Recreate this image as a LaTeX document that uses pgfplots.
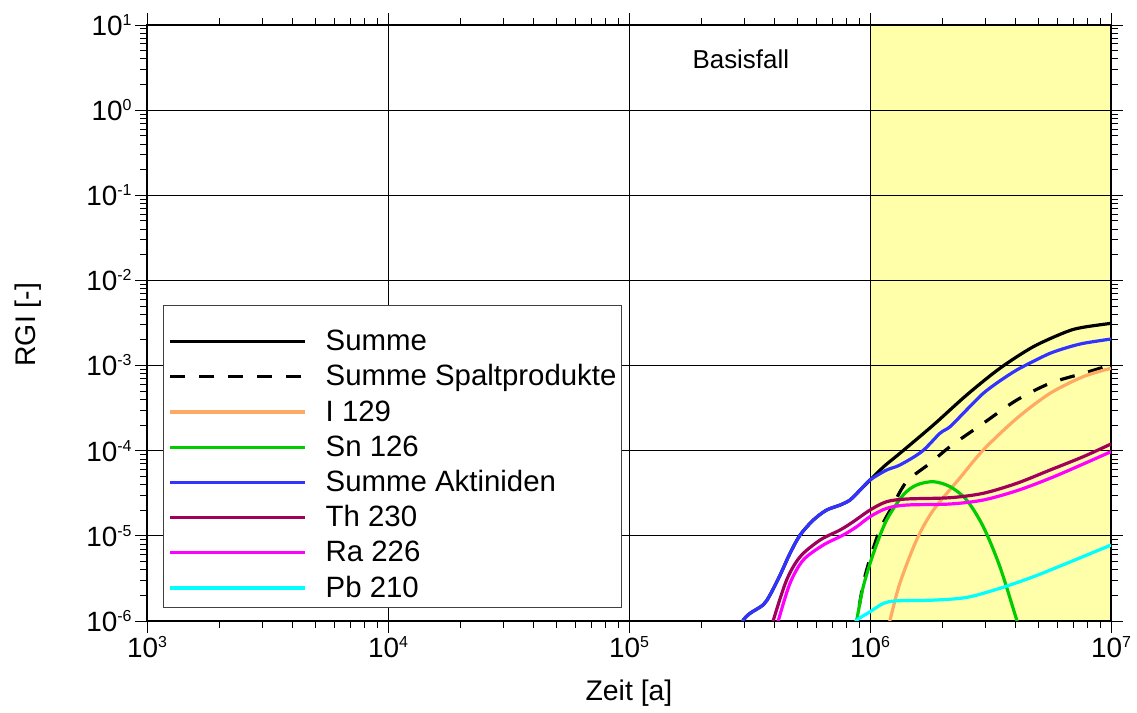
\documentclass[border=0pt]{standalone}
\usepackage{fontspec}
\setmainfont{Liberation Sans}
\usepackage{pgfplots}
\pgfplotsset{compat=1.18}

\definecolor{cSumme}{RGB}{0,0,0}
\definecolor{cIod}{RGB}{255,170,100}
\definecolor{cSn}{RGB}{0,204,0}
\definecolor{cAkt}{RGB}{51,51,255}
\definecolor{cTh}{RGB}{160,0,90}
\definecolor{cRa}{RGB}{255,0,255}
\definecolor{cPb}{RGB}{0,255,255}
\definecolor{cBand}{RGB}{255,255,170}

% power-of-ten tick label in the text font
\newcommand\pw[1]{10\raisebox{10bp}{\fontsize{16}{16}\selectfont #1}}

\begin{document}
\begin{tikzpicture}
\begin{axis}[
  set layers,
  at={(147bp,92bp)}, anchor=south west,
  scale only axis, width=964bp, height=596bp,
  xmode=log, ymode=log,
  xmin=1e3, xmax=1e7, ymin=1e-6, ymax=1e1,
  xtick={1e3,1e4,1e5,1e6,1e7},
  xticklabels={\pw{3},\pw{4},\pw{5},\pw{6},\pw{7}},
  ytick={1e-6,1e-5,1e-4,1e-3,1e-2,1e-1,1e0,1e1},
  yticklabels={\pw{-6},\pw{-5},\pw{-4},\pw{-3},\pw{-2},\pw{-1},\pw{0},\pw{1}},
  minor xtick={2e3,3e3,4e3,5e3,6e3,7e3,8e3,9e3,
               2e4,3e4,4e4,5e4,6e4,7e4,8e4,9e4,
               2e5,3e5,4e5,5e5,6e5,7e5,8e5,9e5,
               2e6,3e6,4e6,5e6,6e6,7e6,8e6,9e6},
  minor ytick={2e-6,3e-6,4e-6,5e-6,6e-6,7e-6,8e-6,9e-6,
               2e-5,3e-5,4e-5,5e-5,6e-5,7e-5,8e-5,9e-5,
               2e-4,3e-4,4e-4,5e-4,6e-4,7e-4,8e-4,9e-4,
               2e-3,3e-3,4e-3,5e-3,6e-3,7e-3,8e-3,9e-3,
               2e-2,3e-2,4e-2,5e-2,6e-2,7e-2,8e-2,9e-2,
               2e-1,3e-1,4e-1,5e-1,6e-1,7e-1,8e-1,9e-1,
               2,3,4,5,6,7,8,9},
  tick align=outside,
  major tick length=12bp, minor tick length=7bp,
  every tick/.style={black, line width=0.9bp},
  xmajorgrids, ymajorgrids,
  major grid style={black, line width=0.9bp},
  axis line style={line width=1.3bp},
  ticklabel style={font=\fontsize{28}{28}\selectfont},
  xlabel={Zeit [a]}, ylabel={RGI [-]},
  label style={font=\fontsize{28.5}{28.5}\selectfont},
  xlabel style={at={(axis description cs:0.5,-0.121)}, anchor=center},
  ylabel style={at={(axis description cs:-0.1234,0.497)}, anchor=center},
  legend style={at={(rel axis cs:0.0166,0.530)}, anchor=north west,
    draw=black!75, line width=1bp, fill=white,
    font=\fontsize{29.5}{29.5}\selectfont,
    inner xsep=5bp, inner ysep=10bp,
    row sep=0.2bp, column sep=19bp,
    nodes={inner sep=0bp, text height=35bp, text depth=0bp}},
  legend cell align=left,
  legend image code/.code={\draw[#1] (0bp,-8.5bp) -- (135bp,-8.5bp);},
  every axis plot/.append style={line width=3.2bp, smooth},
]

% shaded time band 1e6 .. 1e7 a
\addplot[fill=cBand, draw=none, on layer=axis background, forget plot, sharp plot]
  coordinates {(1e6,1e-6) (1e7,1e-6) (1e7,1e1) (1e6,1e1)} -- cycle;

% Summe
\addplot[color=cSumme] coordinates {
 (2.818e5,7.08e-7) (2.979e5,1.023e-6) (3.177e5,1.230e-6) (3.606e5,1.549e-6)
 (3.846e5,2.018e-6) (4.236e5,3.467e-6) (4.656e5,6.223e-6) (5.129e5,1.023e-5)
 (5.821e5,1.535e-5) (6.607e5,2.009e-5) (7.516e5,2.301e-5) (8.260e5,2.636e-5)
 (9.099e5,3.451e-5) (1.000e6,4.529e-5) (1.148e6,6.607e-5) (1.330e6,9.311e-5)
 (1.832e6,2.004e-4) (2.518e6,4.508e-4) (3.459e6,9.290e-4) (4.764e6,1.667e-3)
 (6.546e6,2.500e-3) (7.674e6,2.818e-3) (1e7,3.133e-3)};
\addlegendentry{Summe}

% Summe Spaltprodukte
\addplot[color=black, dash pattern=on 15bp off 14bp] coordinates {
 (8.511e5,7.08e-7) (8.810e5,1.023e-6) (9.376e5,2.75e-6) (1.000e6,5.4e-6)
 (1.099e6,1.18e-5) (1.230e6,2.15e-5) (1.419e6,4.325e-5) (1.774e6,7.112e-5)
 (2.148e6,1.117e-4) (2.951e6,2.099e-4) (4.064e6,3.936e-4) (5.585e6,6.194e-4)
 (7.674e6,8.110e-4) (1e7,1.016e-3)};
\addlegendentry{Summe Spaltprodukte\hspace{6bp}}

% I 129
\addplot[color=cIod] coordinates {
 (1.175e6,7.08e-7) (1.211e6,1.023e-6) (1.330e6,2.773e-6) (1.560e6,8.933e-6)
 (1.832e6,2.009e-5) (2.360e6,4.786e-5) (2.951e6,1.019e-4) (4.064e6,2.399e-4)
 (5.585e6,4.721e-4) (7.674e6,7.413e-4) (1e7,9.290e-4)};
\addlegendentry{I 129}

% Sn 126
\addplot[color=cSn] coordinates {
 (8.610e5,7.08e-7) (8.810e5,1.023e-6) (9.376e5,2.529e-6) (1.033e6,6.223e-6)
 (1.172e6,1.535e-5) (1.374e6,3.020e-5) (1.560e6,3.954e-5) (1.832e6,4.325e-5)
 (2.148e6,3.784e-5) (2.518e6,2.636e-5) (2.951e6,1.282e-5) (3.459e6,4.345e-6)
 (4.064e6,1.023e-6) (4.169e6,7.94e-7)};
\addlegendentry{Sn 126}

% Summe Aktiniden
\addplot[color=cAkt] coordinates {
 (2.818e5,7.08e-7) (2.979e5,1.023e-6) (3.177e5,1.230e-6) (3.606e5,1.549e-6)
 (3.846e5,2.018e-6) (4.236e5,3.467e-6) (4.656e5,6.223e-6) (5.129e5,1.023e-5)
 (5.821e5,1.535e-5) (6.607e5,2.009e-5) (7.516e5,2.301e-5) (8.260e5,2.636e-5)
 (9.099e5,3.451e-5) (1.000e6,4.529e-5) (1.172e6,5.929e-5) (1.330e6,6.792e-5)
 (1.641e6,9.772e-5) (1.950e6,1.600e-4) (2.148e6,1.914e-4) (2.518e6,3.020e-4)
 (2.951e6,4.721e-4) (3.459e6,6.607e-4) (4.064e6,8.872e-4) (4.764e6,1.122e-3)
 (5.585e6,1.393e-3) (6.546e6,1.622e-3) (7.674e6,1.824e-3) (1e7,2.051e-3)};
\addlegendentry{Summe Aktiniden}

% Th 230
\addplot[color=cTh] coordinates {
 (3.846e5,7.08e-7) (3.972e5,1.023e-6) (4.508e5,3.027e-6) (5.129e5,5.689e-6)
 (6.209e5,8.933e-6) (7.516e5,1.172e-5) (8.531e5,1.469e-5) (1.000e6,2.009e-5)
 (1.172e6,2.518e-5) (1.419e6,2.710e-5) (2.148e6,2.805e-5) (2.951e6,3.162e-5)
 (4.064e6,4.140e-5) (5.585e6,5.929e-5) (7.674e6,8.511e-5) (1e7,1.199e-4)};
\addlegendentry{Th 230}

% Ra 226
\addplot[color=cRa] coordinates {
 (4.027e5,7.08e-7) (4.169e5,1.023e-6) (4.656e5,2.773e-6) (5.284e5,5.200e-6)
 (6.397e5,7.798e-6) (7.745e5,1.023e-5) (8.810e5,1.282e-5) (1.000e6,1.679e-5)
 (1.172e6,2.104e-5) (1.419e6,2.301e-5) (2.148e6,2.366e-5) (2.951e6,2.636e-5)
 (4.064e6,3.388e-5) (5.585e6,4.742e-5) (7.674e6,6.982e-5) (1e7,9.750e-5)};
\addlegendentry{Ra 226}

% Pb 210
\addplot[color=cPb] coordinates {
 (8.511e5,8.318e-7) (8.810e5,1.023e-6) (1.000e6,1.282e-6) (1.135e6,1.607e-6)
 (1.291e6,1.726e-6) (1.832e6,1.758e-6) (2.518e6,1.892e-6) (3.459e6,2.421e-6)
 (4.764e6,3.311e-6) (6.546e6,4.753e-6) (1e7,7.798e-6)};
\addlegendentry{Pb 210}

\node[font=\fontsize{26}{26}\selectfont, anchor=center]
  at (rel axis cs:0.616,0.943) {Basisfall};
\end{axis}
\pgfresetboundingbox
\useasboundingbox (0bp,0bp) rectangle (1137bp,713bp);
\end{tikzpicture}
\end{document}
